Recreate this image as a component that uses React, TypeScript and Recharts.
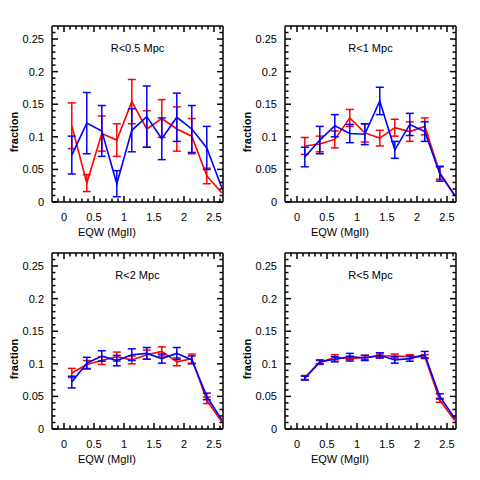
import React from 'react';
import { LineChart, Line, XAxis, YAxis, ErrorBar } from 'recharts';

const eqw = [0.13, 0.38, 0.63, 0.88, 1.13, 1.38, 1.63, 1.88, 2.13, 2.38, 2.63];

const titles = ['R<0.5 Mpc', 'R<1 Mpc', 'R<2 Mpc', 'R<5 Mpc'];

const red05 = [0.117, 0.029, 0.105, 0.095, 0.154, 0.112, 0.128, 0.112, 0.101, 0.040, 0.014];
const red05Err = [0.035, 0.013, 0.027, 0.025, 0.034, 0.028, 0.029, 0.034, 0.027, 0.012, null];
const blue05 = [0.072, 0.121, 0.109, 0.028, 0.110, 0.131, 0.097, 0.130, 0.112, 0.083, 0.022];
const blue05Err = [0.029, 0.047, 0.039, 0.020, 0.033, 0.047, 0.032, 0.037, 0.036, 0.033, null];

const red1 = [0.086, 0.089, 0.096, 0.129, 0.106, 0.098, 0.114, 0.108, 0.116, 0.045, 0.010];
const red1Err = [0.013, 0.012, 0.013, 0.013, 0.014, 0.012, 0.013, 0.015, 0.013, 0.010, null];
const blue1 = [0.069, 0.095, 0.117, 0.105, 0.104, 0.155, 0.080, 0.119, 0.108, 0.043, 0.010];
const blue1Err = [0.015, 0.021, 0.017, 0.014, 0.016, 0.021, 0.013, 0.017, 0.015, 0.011, null];

const red2 = [0.086, 0.099, 0.105, 0.111, 0.106, 0.114, 0.119, 0.103, 0.108, 0.044, 0.011];
const red2Err = [0.007, 0.006, 0.006, 0.007, 0.006, 0.007, 0.007, 0.006, 0.007, 0.005, null];
const blue2 = [0.072, 0.101, 0.112, 0.105, 0.114, 0.116, 0.108, 0.116, 0.106, 0.050, 0.014];
const blue2Err = [0.009, 0.009, 0.008, 0.008, 0.009, 0.009, 0.007, 0.009, 0.006, 0.005, null];

const red5 = [0.079, 0.102, 0.110, 0.108, 0.110, 0.112, 0.112, 0.111, 0.111, 0.044, 0.013];
const red5Err = [0.003, 0.003, 0.004, 0.004, 0.003, 0.003, 0.003, 0.003, 0.003, 0.003, null];
const blue5 = [0.078, 0.103, 0.107, 0.111, 0.109, 0.113, 0.106, 0.108, 0.114, 0.050, 0.016];
const blue5Err = [0.003, 0.003, 0.004, 0.005, 0.004, 0.004, 0.005, 0.004, 0.005, 0.004, null];

const xTicks = [-0.1, 0, 0.1, 0.2, 0.3, 0.4, 0.5, 0.6, 0.7, 0.8, 0.9, 1, 1.1, 1.2, 1.3, 1.4, 1.5, 1.6, 1.7, 1.8, 1.9, 2, 2.1, 2.2, 2.3, 2.4, 2.5, 2.6];
const xLabels = [0, 0.5, 1, 1.5, 2, 2.5];
const yTicks = [0, 0.01, 0.02, 0.03, 0.04, 0.05, 0.06, 0.07, 0.08, 0.09, 0.1, 0.11, 0.12, 0.13, 0.14, 0.15, 0.16, 0.17, 0.18, 0.19, 0.2, 0.21, 0.22, 0.23, 0.24, 0.25, 0.26];
const yLabels = [0, 0.05, 0.1, 0.15, 0.2, 0.25];

const xLabel = 'EQW (MgII)';
const yLabel = 'fraction';

const FONT = '"Liberation Sans", Arial, sans-serif';
const PLOT_W = 171;
const PLOT_H = 176;
const Y_AXIS_W = 52;
const X_AXIS_H = 38;
const MAJOR = 6;
const MINOR = 3.5;
const TICK_W = 1.5;
const TICK_COLOR = '#000';

const isLabel = (list: number[], v: number) => list.some((l) => Math.abs(l - v) < 1e-9);

const BottomTick = (props: any) => {
  const { x, y, payload } = props;
  const v = payload.value;
  const major = isLabel(xLabels, v);
  return (
    <g>
      <line x1={x} y1={y} x2={x} y2={y - (major ? MAJOR : MINOR)} stroke={TICK_COLOR} strokeWidth={TICK_W} />
      {major && (
        <text x={x} y={y + 19} textAnchor="middle" fontSize={11} fontFamily={FONT} fill="#000">
          {String(v)}
        </text>
      )}
    </g>
  );
};

const TopTick = (props: any) => {
  const { x, y, payload } = props;
  const major = isLabel(xLabels, payload.value);
  return (
    <g>
      <line x1={x} y1={y} x2={x} y2={y + (major ? MAJOR : MINOR)} stroke={TICK_COLOR} strokeWidth={TICK_W} />
    </g>
  );
};

const LeftTick = (props: any) => {
  const { x, y, payload } = props;
  const v = payload.value;
  const major = isLabel(yLabels, v);
  return (
    <g>
      <line x1={x} y1={y} x2={x + (major ? MAJOR : MINOR)} y2={y} stroke={TICK_COLOR} strokeWidth={TICK_W} />
      {major && (
        <text x={x - 8} y={y + 4} textAnchor="end" fontSize={11} fontFamily={FONT} fill="#000">
          {String(v)}
        </text>
      )}
    </g>
  );
};

const RightTick = (props: any) => {
  const { x, y, payload } = props;
  const major = isLabel(yLabels, payload.value);
  return (
    <g>
      <line x1={x} y1={y} x2={x - (major ? MAJOR : MINOR)} y2={y} stroke={TICK_COLOR} strokeWidth={TICK_W} />
    </g>
  );
};

type PanelProps = {
  plotLeft: number;
  plotTop: number;
  title: string;
  red: number[];
  redErr: (number | null)[];
  blue: number[];
  blueErr: (number | null)[];
};

const Panel = ({ plotLeft, plotTop, title, red, redErr, blue, blueErr }: PanelProps) => {
  const data = eqw.map((x, i) => ({ x, red: red[i], redErr: redErr[i], blue: blue[i], blueErr: blueErr[i] }));
  const width = Y_AXIS_W + PLOT_W + 17;
  const height = PLOT_H + X_AXIS_H + 10;
  const axisLine = { stroke: '#000', strokeWidth: 1.5 };
  return (
    <>
      <div style={{ position: 'absolute', left: plotLeft - Y_AXIS_W, top: plotTop - 10 }}>
        <LineChart width={width} height={height} data={data} margin={{ top: 10, right: 17, bottom: 0, left: 0 }}>
          <XAxis
            xAxisId="b"
            dataKey="x"
            type="number"
            domain={[-0.2, 2.65]}
            allowDataOverflow
            ticks={xTicks}
            interval={0}
            tickSize={0}
            tickMargin={0}
            tickLine={false}
            axisLine={axisLine}
            height={X_AXIS_H}
            tick={BottomTick}
            orientation="bottom"
          />
          <XAxis
            xAxisId="t"
            dataKey="x"
            type="number"
            domain={[-0.2, 2.65]}
            allowDataOverflow
            ticks={xTicks}
            interval={0}
            tickSize={0}
            tickMargin={0}
            tickLine={false}
            axisLine={axisLine}
            height={2}
            mirror
            tick={TopTick}
            orientation="top"
          />
          <YAxis
            yAxisId="l"
            type="number"
            domain={[0, 0.27]}
            allowDataOverflow
            ticks={yTicks}
            interval={0}
            tickSize={0}
            tickMargin={0}
            tickLine={false}
            axisLine={axisLine}
            width={Y_AXIS_W}
            tick={LeftTick}
            orientation="left"
          />
          <YAxis
            yAxisId="r"
            type="number"
            domain={[0, 0.27]}
            allowDataOverflow
            ticks={yTicks}
            interval={0}
            tickSize={0}
            tickMargin={0}
            tickLine={false}
            axisLine={axisLine}
            width={2}
            mirror
            tick={RightTick}
            orientation="right"
          />
          <Line xAxisId="b" yAxisId="l" dataKey="red" stroke="#ff0000" strokeWidth={1.6} dot={false} isAnimationActive={false}>
            <ErrorBar dataKey="redErr" direction="y" width={4} stroke="#ff0000" strokeWidth={1.5} />
          </Line>
          <Line xAxisId="b" yAxisId="l" dataKey="blue" stroke="#0000ff" strokeWidth={1.6} dot={false} isAnimationActive={false}>
            <ErrorBar dataKey="blueErr" direction="y" width={4} stroke="#0000ff" strokeWidth={1.5} />
          </Line>
        </LineChart>
      </div>
      <div
        style={{
          position: 'absolute',
          left: plotLeft,
          width: PLOT_W,
          top: plotTop + 15,
          textAlign: 'center',
          fontSize: 11,
          lineHeight: '14px',
          fontFamily: FONT,
          color: '#000',
        }}
      >
        {title}
      </div>
      <div
        style={{
          position: 'absolute',
          left: plotLeft + 55 - 50,
          width: 100,
          top: plotTop + PLOT_H + 23,
          textAlign: 'center',
          fontSize: 11,
          lineHeight: '14px',
          fontFamily: FONT,
          color: '#000',
        }}
      >
        {xLabel}
      </div>
      <div
        style={{
          position: 'absolute',
          left: plotLeft - 38 - 40,
          width: 80,
          top: plotTop + 106 - 7,
          textAlign: 'center',
          fontSize: 11,
          lineHeight: '14px',
          fontWeight: 'bold',
          fontFamily: FONT,
          color: '#000',
          transform: 'rotate(-90deg)',
        }}
      >
        {yLabel}
      </div>
    </>
  );
};

export default function App() {
  return (
    <div style={{ position: 'absolute', left: 0, top: 0, width: 480, height: 480, background: '#fff' }}>
      <Panel plotLeft={52} plotTop={26} title={titles[0]} red={red05} redErr={red05Err} blue={blue05} blueErr={blue05Err} />
      <Panel plotLeft={285} plotTop={26} title={titles[1]} red={red1} redErr={red1Err} blue={blue1} blueErr={blue1Err} />
      <Panel plotLeft={52} plotTop={253} title={titles[2]} red={red2} redErr={red2Err} blue={blue2} blueErr={blue2Err} />
      <Panel plotLeft={285} plotTop={253} title={titles[3]} red={red5} redErr={red5Err} blue={blue5} blueErr={blue5Err} />
    </div>
  );
}
